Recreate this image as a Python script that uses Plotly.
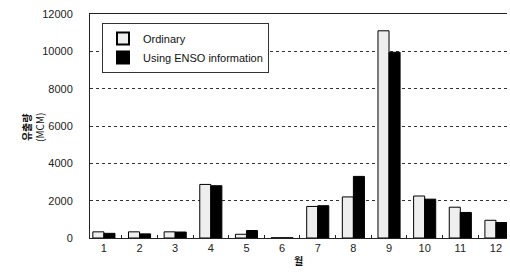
import plotly.graph_objects as go

months = ["1", "2", "3", "4", "5", "6", "7", "8", "9", "10", "11", "12"]
ordinary = [330, 330, 330, 2870, 200, 10, 1690, 2200, 11100, 2250, 1650, 950]
enso = [250, 220, 320, 2800, 400, 10, 1730, 3300, 9950, 2080, 1370, 830]
y_ticks = [0, 2000, 4000, 6000, 8000, 10000, 12000]

fig = go.Figure()
fig.add_trace(go.Bar(x=months, y=ordinary, name="Ordinary",
                     marker=dict(color="#eeeeee", line=dict(color="black", width=1))))
fig.add_trace(go.Bar(x=months, y=enso, name="Using ENSO information",
                     marker=dict(color="black", line=dict(color="black", width=1))))

font = "Liberation Sans, Arial, sans-serif"
L, R, T, B = 90, 3, 14, 41
W, H = 510, 279
pw, ph = W - L - R, H - T - B

fig.update_layout(
    width=W, height=H,
    margin=dict(l=L, r=R, t=T, b=B, autoexpand=False),
    paper_bgcolor="white", plot_bgcolor="white",
    barmode="group", bargap=0.38, bargroupgap=0,
    font=dict(family=font, size=11, color="#222"),
    showlegend=True,
    legend=dict(x=(102 - L) / pw, y=(T + ph - 23) / ph, xanchor="left", yanchor="top",
                bordercolor="#333", borderwidth=1, bgcolor="white",
                font=dict(size=11, color="#111"),
                tracegroupgap=0, itemwidth=30, itemsizing="constant"),
    xaxis=dict(type="category", range=[-0.39, 11.31], automargin=False,
               showline=True, linecolor="#222", linewidth=1, mirror=True,
               ticks="inside", ticklen=3, tickcolor="#222", tickson="boundaries",
               showgrid=False, tickfont=dict(size=11, color="#222")),
    yaxis=dict(range=[0, 12000], tickvals=y_ticks, tickformat="d", automargin=False,
               showline=True, linecolor="#222", linewidth=1,
               showgrid=True, gridcolor="#333", griddash="dot", gridwidth=1,
               ticks="outside", ticklen=14, tickcolor="white",
               zeroline=False, tickfont=dict(size=11, color="#222")),
    annotations=[
        dict(text="<b>유출량</b><br>(MCM)", x=(17 - L) / pw, y=(T + ph - 128) / ph,
             xref="paper", yref="paper",
             showarrow=False, textangle=-90, font=dict(size=10, color="#111",
             family="Noto Sans CJK KR, sans-serif")),
        dict(text="<b>월</b>", x=0.5, y=-0.145, xref="paper", yref="paper",
             showarrow=False, font=dict(size=10, color="#111",
             family="Noto Sans CJK KR, sans-serif")),
    ],
)

fig.write_html("out.html", config={"displayModeBar": False},
               post_script="document.body.style.margin='0';")
